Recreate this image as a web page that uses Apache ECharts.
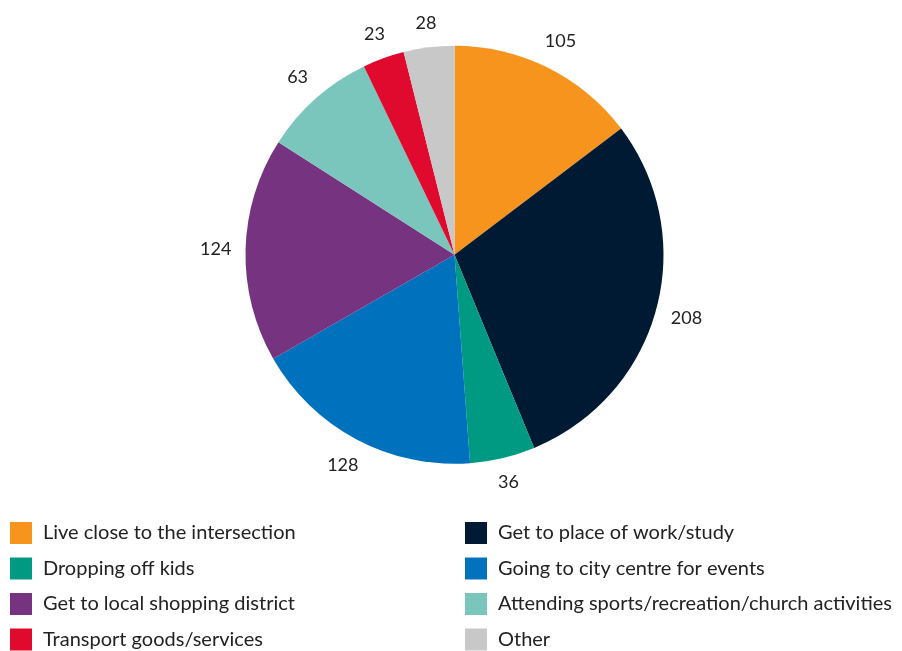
<!DOCTYPE html>
<html>
<head>
<meta charset="utf-8">
<script src="https://cdn.jsdelivr.net/npm/echarts@6/dist/echarts.min.js"></script>
<style>
  html, body { margin: 0; padding: 0; background: #fff; }
  #chart { width: 902px; height: 651px; }
</style>
</head>
<body>
<div id="chart"></div>
<script>
// Reasons for travelling through the intersection (number of responses)
const categories = [
  'Live close to the intersection',
  'Get to place of work/study',
  'Dropping off kids',
  'Going to city centre for events',
  'Get to local shopping district',
  'Attending sports/recreation/church activities',
  'Transport goods/services',
  'Other'
];
const responses = [105, 208, 36, 128, 124, 63, 23, 28];
const sliceColors = ['#F7941D', '#001A33', '#009A82', '#0071BC', '#76337F', '#7AC5BC', '#E0092E', '#C8C8C8'];

// Legend columns
const legendLeft = [categories[0], categories[2], categories[4], categories[6]];
const legendRight = [categories[1], categories[3], categories[5], categories[7]];

const FONT = 'Lato';
const CENTER = [454.5, 254.75];
const PIE_R = 209;
const LABEL_GAP = 14; // distance from pie edge to nearest side of a value label

const pieData = categories.map((name, i) => ({
  name: name,
  value: responses[i],
  itemStyle: { color: sliceColors[i] }
}));

const labelData = categories.map((name, i) => ({
  name: name,
  value: responses[i]
}));

const legendCommon = {
  orient: 'vertical',
  top: 522,
  padding: 0,
  itemWidth: 22,
  itemHeight: 22,
  itemGap: 13.5,
  icon: 'rect',
  selectedMode: false,
  textStyle: {
    fontFamily: FONT,
    fontSize: 20,
    color: '#222',
    padding: [0, 0, 0, 6]
  }
};

// Push each value label outward along its slice's mid-angle so that the
// label box sits a fixed gap outside the pie edge.
function placeOutside(params) {
  const r = params.labelRect;
  const cx = r.x + r.width / 2;
  const cy = r.y + r.height / 2;
  const dx = cx - CENTER[0];
  const dy = cy - CENTER[1];
  const len = Math.sqrt(dx * dx + dy * dy) || 1;
  const ux = dx / len, uy = dy / len;
  const extent = Math.abs(ux) * r.width / 2 + Math.abs(uy) * r.height / 2;
  const dist = PIE_R + LABEL_GAP + extent;
  return { x: CENTER[0] + ux * dist, y: CENTER[1] + uy * dist };
}

const chart = echarts.init(document.getElementById('chart'), null, { renderer: 'canvas' });
chart.setOption({
  animation: false,
  backgroundColor: '#fff',
  legend: [
    Object.assign({}, legendCommon, { left: 10, data: legendLeft }),
    Object.assign({}, legendCommon, { left: 465, data: legendRight })
  ],
  series: [
    {
      type: 'pie',
      center: CENTER,
      radius: [0, PIE_R],
      startAngle: 90,
      clockwise: true,
      silent: true,
      label: { show: false },
      labelLine: { show: false },
      itemStyle: { borderWidth: 0 },
      data: pieData
    },
    {
      // value labels on a transparent ring just outside the pie
      type: 'pie',
      center: CENTER,
      radius: [229, 249],
      startAngle: 90,
      clockwise: true,
      silent: true,
      legendHoverLink: false,
      itemStyle: { color: 'rgba(0,0,0,0)', borderWidth: 0 },
      label: {
        show: true,
        position: 'inside',
        formatter: '{c}',
        fontFamily: FONT,
        fontSize: 18,
        color: '#222',
        align: 'center',
        verticalAlign: 'middle'
      },
      labelLine: { show: false },
      labelLayout: placeOutside,
      data: labelData
    }
  ]
});
</script>
</body>
</html>
